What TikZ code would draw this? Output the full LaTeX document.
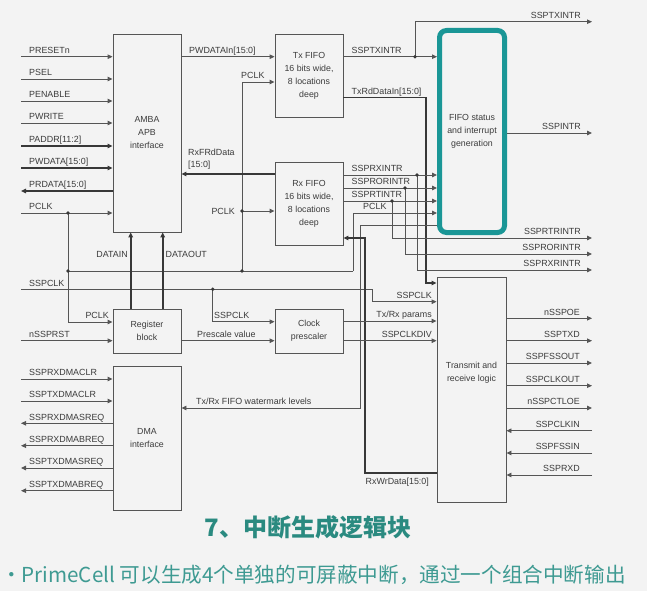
\documentclass[tikz,border=0pt]{standalone}
\usepackage{fontspec}
\setmainfont{Liberation Sans}
\newfontfamily\cjk{Noto Sans CJK SC}
\usetikzlibrary{arrows.meta,calc}
\definecolor{bg}{HTML}{F3F3F3}
\definecolor{ln}{HTML}{555555}
\definecolor{busc}{HTML}{383838}
\definecolor{txt}{HTML}{3C3C3C}
\definecolor{tealA}{HTML}{1A9696}
\definecolor{tealB}{HTML}{2A8A80}
\definecolor{tealC}{HTML}{3E9A92}
\begin{document}
\begin{tikzpicture}[x=1pt,y=-1pt,
  sig/.style={draw=ln,line width=0.9pt},
  bus/.style={draw=busc,line width=1.8pt},
  mbus/.style={draw=busc,line width=1.4pt},
  arr/.style={-{Triangle[length=5pt,width=4.5pt]}},
  blk/.style={draw=ln,line width=0.9pt,fill=bg,inner sep=0pt,align=center,font=\fontsize{8.8}{13}\selectfont,text=txt},
  btxt/.style={inner sep=0pt,align=center,font=\fontsize{8.8}{13}\selectfont,text=txt},
  lbl/.style={inner sep=0pt,font=\fontsize{8.9}{10}\selectfont,text=txt},
  jdot/.style={circle,fill=busc,inner sep=0pt,minimum size=3.8pt}
]
\useasboundingbox (0,0) rectangle (647,591);
\clip (0,0) rectangle (647,591);
\fill[bg] (0,0) rectangle (647,591);

% ---------------- blocks
\node[blk,minimum width=68pt,minimum height=198pt] (amba) at (147,133) {AMBA\\APB\\interface};
\node[blk,minimum width=68pt,minimum height=83pt] (txfifo) at (309,75.5) {Tx FIFO\\16 bits wide,\\8 locations\\deep};
\node[blk,minimum width=68pt,minimum height=83pt] (rxfifo) at (309,203.5) {Rx FIFO\\16 bits wide,\\8 locations\\deep};
\node[blk,draw=tealA,line width=5pt,rounded corners=7pt,minimum width=65pt,minimum height=202pt] (fifostat) at (472,131.5) {FIFO status\\and interrupt\\generation};
\node[blk,minimum width=69pt,minimum height=225pt] (txrx) at (471.5,389.5) {};
\node[btxt] (txrxlbl) at (471.5,373) {Transmit and\\receive logic};
\node[blk,minimum width=68pt,minimum height=44pt] (regblk) at (147,331) {Register\\block};
\node[blk,minimum width=68pt,minimum height=44pt] (clkpre) at (309,331) {Clock\\prescaler};
\node[blk,minimum width=68pt,minimum height=144pt] (dma) at (147,438) {DMA\\interface};

% ---------------- left APB inputs
\coordinate (iPRESETn) at (21,56.7);
\coordinate (iPSEL) at (21,79);
\coordinate (iPENABLE) at (21,101);
\coordinate (iPWRITE) at (21,123);
\coordinate (iPADDR) at (21,146);
\coordinate (iPWDATA) at (21,168);
\coordinate (oPRDATA) at (21,191);
\coordinate (iPCLK) at (21,213);
\draw[sig,arr] (iPRESETn) -- (iPRESETn -| amba.west);
\draw[sig,arr] (iPSEL) -- (iPSEL -| amba.west);
\draw[sig,arr] (iPENABLE) -- (iPENABLE -| amba.west);
\draw[sig,arr] (iPWRITE) -- (iPWRITE -| amba.west);
\draw[bus,arr] (iPADDR) -- (iPADDR -| amba.west);
\draw[bus,arr] (iPWDATA) -- (iPWDATA -| amba.west);
\draw[bus,arr] (oPRDATA -| amba.west) -- (oPRDATA);
\draw[sig,arr] (iPCLK) -- (iPCLK -| amba.west);
\node[lbl,anchor=base west] (lPRESETn) at (29,53.5) {PRESETn};
\node[lbl,anchor=base west] (lPSEL) at (29,75.8) {PSEL};
\node[lbl,anchor=base west] (lPENABLE) at (29,97.8) {PENABLE};
\node[lbl,anchor=base west] (lPWRITE) at (29,119.8) {PWRITE};
\node[lbl,anchor=base west] (lPADDR) at (29,142.8) {PADDR[11:2]};
\node[lbl,anchor=base west] (lPWDATA) at (29,164.8) {PWDATA[15:0]};
\node[lbl,anchor=base west] (lPRDATA) at (29,187.8) {PRDATA[15:0]};
\node[lbl,anchor=base west] (lPCLK) at (29,209.8) {PCLK};

% ---------------- PCLK network
\coordinate (pclkA) at (68,213);
\coordinate (pclkB) at (68,271);
\coordinate (pclkC) at (242,271);
\coordinate (pclkD) at (242,211);
\coordinate (pclkE) at (353,271);
\coordinate (pclkF) at (353,213);
\coordinate (pclkTx) at (242,82);
\coordinate (pclkR) at (68,322);
\draw[sig,arr] (pclkA) -- (pclkR) -- (pclkR -| regblk.west);
\draw[sig] (pclkB) -- (pclkE);
\draw[sig,arr] (pclkE) |- (pclkF -| fifostat.west);
\draw[sig,arr] (pclkC) |- (pclkTx -| txfifo.west);
\draw[sig,arr] (pclkD) -- (pclkD -| rxfifo.west);
\node[lbl,anchor=base west] (lPCLKtx) at (241,78.3) {PCLK};
\node[lbl,anchor=east] (lPCLKrx) at (235,211) {PCLK};
\node[lbl,anchor=base west] (lPCLKfs) at (363,209.8) {PCLK};
\node[lbl,anchor=base east] (lPCLKrg) at (109,318.3) {PCLK};

% ---------------- SSPCLK network
\coordinate (iSSPCLK) at (21,289.3);
\coordinate (sclkA) at (212.7,289.3);
\coordinate (sclkB) at (372,289.3);
\coordinate (sclkT) at (372,301.7);
\coordinate (sclkP) at (212.7,321.7);
\draw[sig,arr] (iSSPCLK) -- (sclkB) |- (sclkT -| txrx.west);
\draw[sig,arr] (sclkA) |- (sclkP -| clkpre.west);
\node[lbl,anchor=base west] (lSSPCLK) at (29,286) {SSPCLK};
\node[lbl,anchor=base west] (lSSPCLKp) at (214,318.4) {SSPCLK};
\node[lbl,anchor=base east] (lSSPCLKt) at (432,298.4) {SSPCLK};

% ---------------- register block
\coordinate (iRST) at (21,340.7);
\draw[sig,arr] (iRST) -- (iRST -| regblk.west);
\node[lbl,anchor=base west] (lRST) at (29,337.4) {nSSPRST};
\coordinate (dinx) at (130.7,270);
\coordinate (doutx) at (162.7,270);
\draw[bus,arr] (regblk.north -| dinx) -- (amba.south -| dinx);
\draw[bus,arr] (regblk.north -| doutx) -- (amba.south -| doutx);
\node[lbl,anchor=east] (lDATAIN) at (128,254.3) {DATAIN};
\node[lbl,anchor=west] (lDATAOUT) at (165.5,254.3) {DATAOUT};
\coordinate (presc) at (190,340.7);
\draw[sig,arr] (regblk.east |- presc) -- (clkpre.west |- presc);
\node[lbl,anchor=base west] (lpresc) at (197,337.4) {Prescale value};

% ---------------- FIFOs
\coordinate (pwdin) at (190,56.7);
\draw[sig,arr] (amba.east |- pwdin) -- (txfifo.west |- pwdin);
\node[lbl,anchor=base west] (lpwdin) at (189,53.3) {PWDATAIn[15:0]};
\coordinate (rxrd) at (200,174);
\draw[bus,arr] (rxfifo.west |- rxrd) -- (amba.east |- rxrd);
\node[lbl,anchor=south west,align=left,font=\fontsize{8.9}{12.4}\selectfont] (lrxrd) at (188,170) {RxFRdData\\{[15:0]}};

\coordinate (txi) at (400,56.7);
\coordinate (txidot) at (415,56.7);
\coordinate (txiup) at (415,21.7);
\coordinate (oSSPTXINTR) at (592,21.7);
\draw[sig,arr] (txfifo.east |- txi) -- (fifostat.west |- txi);
\draw[sig,arr] (txidot) -- (txiup) -- (oSSPTXINTR);
\node[lbl,anchor=base west] (ltxi) at (351.5,53.3) {SSPTXINTR};
\node[lbl,anchor=base east] (lotxi) at (581,18.3) {SSPTXINTR};

\coordinate (txrd) at (360,97.7);
\coordinate (txrdturn) at (426,283);
\draw[mbus,arr] (txfifo.east |- txrd) -| (txrdturn) -- (txrdturn -| txrx.west);
\node[lbl,anchor=base west] (ltxrd) at (351.5,94.3) {TxRdDataIn[15:0]};

\coordinate (ri1) at (417,175);
\coordinate (ri2) at (405,188);
\coordinate (ri3) at (392,201);
\coordinate (oRXR) at (592,270);
\coordinate (oROR) at (592,254);
\coordinate (oRTR) at (592,238);
\draw[sig,arr] (rxfifo.east |- ri1) -- (fifostat.west |- ri1);
\draw[sig,arr] (rxfifo.east |- ri2) -- (fifostat.west |- ri2);
\draw[sig,arr] (rxfifo.east |- ri3) -- (fifostat.west |- ri3);
\draw[sig,arr] (ri1) |- (oRXR);
\draw[sig,arr] (ri2) |- (oROR);
\draw[sig,arr] (ri3) |- (oRTR);
\node[lbl,anchor=base west] (lri1) at (351.5,171.8) {SSPRXINTR};
\node[lbl,anchor=base west] (lri2) at (351.5,184.8) {SSPRORINTR};
\node[lbl,anchor=base west] (lri3) at (351.5,197.8) {SSPRTINTR};
\node[lbl,anchor=base east] (loRTR) at (581,234.8) {SSPRTRINTR};
\node[lbl,anchor=base east] (loROR) at (581,250.8) {SSPRORINTR};
\node[lbl,anchor=base east] (loRXR) at (581,266.8) {SSPRXRINTR};

\coordinate (oSSPINTR) at (592,133);
\draw[sig,arr] (fifostat.east |- oSSPINTR) -- (oSSPINTR);
\node[lbl,anchor=base east] (loint) at (581,129.8) {SSPINTR};

% watermark levels
\coordinate (wmA) at (400,225);
\coordinate (wmB) at (360,408);
\draw[sig,arr] (fifostat.west |- wmA) -| (wmB) -- (wmB -| dma.east);
\node[lbl,anchor=base west] (lwm) at (196,404.3) {Tx/Rx FIFO watermark levels};

% RxWrData
\coordinate (rxwr) at (400,473);
\coordinate (rxwrup) at (365,238);
\draw[mbus,arr] (txrx.west |- rxwr) -| (rxwrup) -- (rxwrup -| rxfifo.east);
\node[lbl,anchor=base west] (lrxwr) at (365.5,484.8) {RxWrData[15:0]};

% prescaler outputs
\coordinate (trp) at (400,321);
\coordinate (cdiv) at (400,340.7);
\draw[sig,arr] (clkpre.east |- trp) -- (txrx.west |- trp);
\draw[sig,arr] (clkpre.east |- cdiv) -- (txrx.west |- cdiv);
\node[lbl,anchor=base east] (ltrp) at (432,317.8) {Tx/Rx params};
\node[lbl,anchor=base east] (lcdiv) at (432,337.4) {SSPCLKDIV};

% ---------------- transmit/receive pins
\coordinate (oOE) at (592,318.3);
\coordinate (oTXD) at (592,340.7);
\coordinate (oFSSO) at (592,363);
\coordinate (oCLKO) at (592,385.7);
\coordinate (oCTLOE) at (592,408);
\coordinate (iCLKIN) at (592,430.7);
\coordinate (iFSSIN) at (592,453);
\coordinate (iRXD) at (592,475);
\draw[sig,arr] (txrx.east |- oOE) -- (oOE);
\draw[sig,arr] (txrx.east |- oTXD) -- (oTXD);
\draw[sig,arr] (txrx.east |- oFSSO) -- (oFSSO);
\draw[sig,arr] (txrx.east |- oCLKO) -- (oCLKO);
\draw[sig,arr] (txrx.east |- oCTLOE) -- (oCTLOE);
\draw[sig,arr] (iCLKIN) -- (iCLKIN -| txrx.east);
\draw[sig,arr] (iFSSIN) -- (iFSSIN -| txrx.east);
\draw[sig,arr] (iRXD) -- (iRXD -| txrx.east);
\node[lbl,anchor=base east] (loOE) at (580,315) {nSSPOE};
\node[lbl,anchor=base east] (loTXD) at (580,337.4) {SSPTXD};
\node[lbl,anchor=base east] (loFSSO) at (580,359.7) {SSPFSSOUT};
\node[lbl,anchor=base east] (loCLKO) at (580,382.4) {SSPCLKOUT};
\node[lbl,anchor=base east] (loCTLOE) at (580,404.7) {nSSPCTLOE};
\node[lbl,anchor=base east] (liCLKIN) at (580,427.4) {SSPCLKIN};
\node[lbl,anchor=base east] (liFSSIN) at (580,449.7) {SSPFSSIN};
\node[lbl,anchor=base east] (liRXD) at (580,471.7) {SSPRXD};

% ---------------- DMA pins
\coordinate (dm1) at (21,379);
\coordinate (dm2) at (21,401);
\coordinate (dm3) at (21,423.3);
\coordinate (dm4) at (21,445.7);
\coordinate (dm5) at (21,468);
\coordinate (dm6) at (21,490.7);
\draw[sig,arr] (dm1) -- (dm1 -| dma.west);
\draw[sig,arr] (dm2) -- (dm2 -| dma.west);
\draw[sig,arr] (dm3 -| dma.west) -- (dm3);
\draw[sig,arr] (dm4 -| dma.west) -- (dm4);
\draw[sig,arr] (dm5 -| dma.west) -- (dm5);
\draw[sig,arr] (dm6 -| dma.west) -- (dm6);
\node[lbl,anchor=base west] (ldm1) at (29,375.7) {SSPRXDMACLR};
\node[lbl,anchor=base west] (ldm2) at (29,397.7) {SSPTXDMACLR};
\node[lbl,anchor=base west] (ldm3) at (29,420) {SSPRXDMASREQ};
\node[lbl,anchor=base west] (ldm4) at (29,442.4) {SSPRXDMABREQ};
\node[lbl,anchor=base west] (ldm5) at (29,464.7) {SSPTXDMASREQ};
\node[lbl,anchor=base west] (ldm6) at (29,487.4) {SSPTXDMABREQ};

% ---------------- junction dots
\node[jdot] (d1) at (pclkA) {};
\node[jdot] (d2) at (pclkB) {};
\node[jdot] (d3) at (pclkC) {};
\node[jdot] (d4) at (pclkD) {};
\node[jdot] (d5) at (sclkA) {};
\node[jdot] (d6) at (txidot) {};
\node[jdot] (d7) at (ri1) {};
\node[jdot] (d8) at (ri2) {};
\node[jdot] (d9) at (ri3) {};

% ---------------- caption text
\node[inner sep=0pt,text=tealB,font=\cjk\bfseries\fontsize{24}{28}\selectfont] (title) at (308,527) {7、中断生成逻辑块};
\node[inner sep=0pt,anchor=west,text=tealC,font=\cjk\fontsize{20.6}{25}\selectfont] (line2) at (1,575) {•PrimeCell 可以生成4个单独的可屏蔽中断，通过一个组合中断输出};
\end{tikzpicture}
\end{document}
